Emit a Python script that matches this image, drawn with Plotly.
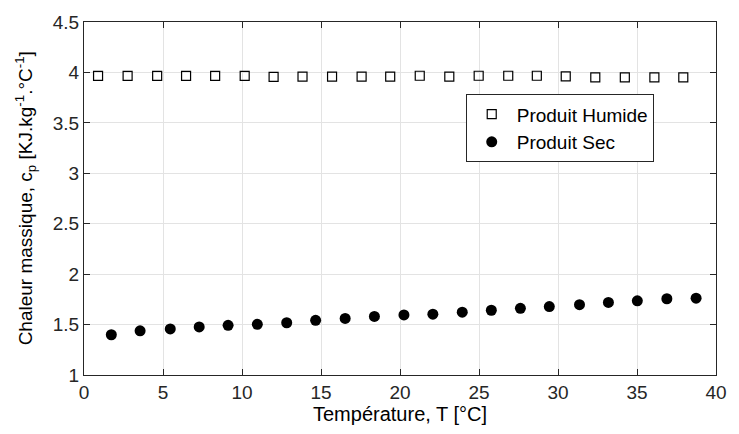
import plotly.graph_objects as go

# Produit Humide (open squares)
t_humide = [0.89, 2.76, 4.63, 6.46, 8.30, 10.17, 12.00, 13.83, 15.70, 17.57, 19.38,
            21.25, 23.12, 24.98, 26.85, 28.66, 30.49, 32.36, 34.23, 36.10, 37.93]
cp_humide = [3.965, 3.965, 3.965, 3.965, 3.965, 3.965, 3.955, 3.958, 3.958, 3.958, 3.958,
             3.967, 3.958, 3.967, 3.967, 3.967, 3.96, 3.95, 3.95, 3.95, 3.95]

# Produit Sec (filled circles)
t_sec = [1.73, 3.55, 5.46, 7.29, 9.12, 10.97, 12.83, 14.66, 16.53, 18.38, 20.25,
         22.08, 23.94, 25.78, 27.62, 29.45, 31.36, 33.19, 35.02, 36.89, 38.74]
cp_sec = [1.399, 1.438, 1.457, 1.477, 1.493, 1.503, 1.518, 1.542, 1.561, 1.581, 1.596,
          1.603, 1.623, 1.642, 1.661, 1.678, 1.697, 1.720, 1.736, 1.756, 1.762]

x_ticks = [0, 5, 10, 15, 20, 25, 30, 35, 40]
y_ticks = [1, 1.5, 2, 2.5, 3, 3.5, 4, 4.5]
y_tick_labels = ["1", "1.5", "2", "2.5", "3", "3.5", "4", "4.5"]

AX = "#262626"
FONT = "Liberation Sans, Arial, sans-serif"

fig = go.Figure()
fig.add_trace(go.Scatter(
    x=t_humide, y=cp_humide, mode="markers", name="Produit Humide",
    marker=dict(symbol="square-open", size=9, color="black", line=dict(width=1.2, color="black")),
))
fig.add_trace(go.Scatter(
    x=t_sec, y=cp_sec, mode="markers", name="Produit Sec",
    marker=dict(symbol="circle", size=11, color="black"),
))

axis_common = dict(
    showline=True, linecolor=AX, linewidth=1, mirror="ticks",
    ticks="inside", ticklen=6, tickcolor=AX, tickwidth=1,
    showgrid=True, gridcolor="#e3e3e3", gridwidth=1, zeroline=False,
    tickfont=dict(family=FONT, size=19, color=AX),
)

fig.update_layout(
    width=739, height=434,
    margin=dict(l=84, r=13, t=14, b=59),
    paper_bgcolor="white", plot_bgcolor="white",
    font=dict(family=FONT, color=AX),
    xaxis=dict(
        range=[0, 40], tickvals=x_ticks, **axis_common,
        title=dict(text="Température, T [°C]", font=dict(family=FONT, size=20, color="black"), standoff=2),
    ),
    yaxis=dict(
        range=[1, 4.5], tickvals=y_ticks, ticktext=y_tick_labels, **axis_common,
    ),
    legend=dict(
        x=0.604, y=0.699, xanchor="left", yanchor="middle",
        bgcolor="white", bordercolor=AX, borderwidth=1,
        font=dict(family=FONT, size=19, color="black"),
        tracegroupgap=0, itemwidth=40,
    ),
    showlegend=True,
)

fig.add_annotation(
    text="Chaleur massique, c<sub>p</sub> [KJ.kg<sup>-1</sup>.°C<sup>-1</sup>]",
    xref="paper", yref="paper", x=-0.092, y=0.5, xanchor="center", yanchor="middle",
    textangle=-90, showarrow=False, font=dict(family=FONT, size=19, color="black"),
)

fig.write_html("out.html")
